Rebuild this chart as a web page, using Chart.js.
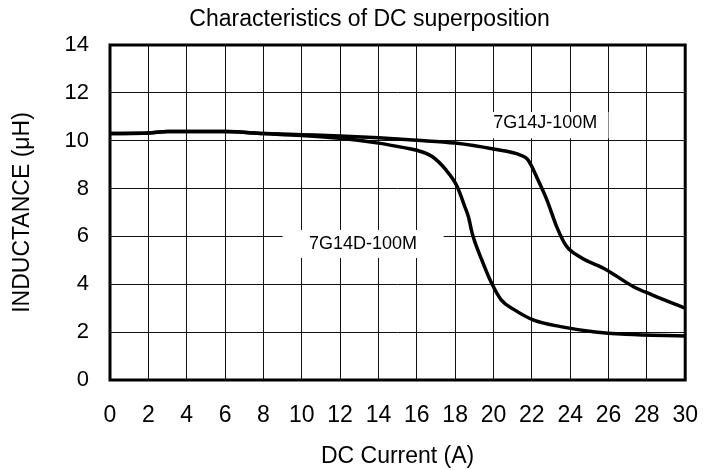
<!DOCTYPE html>
<html>
<head>
<meta charset="utf-8">
<title>Characteristics of DC superposition</title>
<script src="https://cdn.jsdelivr.net/npm/chart.js@4"></script>
<style>
  html, body { margin: 0; padding: 0; background: #fff; }
  #wrap { width: 720px; height: 470px; }
</style>
</head>
<body>
<div id="wrap"><canvas id="dcChart" width="720" height="470"></canvas></div>
<script>
// DC current (A) and inductance (uH)
const currentJ = [0, 2, 3, 6, 8, 10, 12, 14, 16, 18, 20, 21.4, 21.8, 22.3, 22.8, 23.3, 23.8, 24.5, 25.9, 27.3, 28.3, 30];
const inductanceJ = [10.3, 10.32, 10.38, 10.38, 10.3, 10.25, 10.2, 10.12, 10.02, 9.9, 9.65, 9.4, 9.2, 8.4, 7.5, 6.4, 5.6, 5.15, 4.6, 3.9, 3.55, 3.0];

const currentD = [0, 2, 3, 6, 8, 10, 12, 14, 15.4, 16, 16.8, 17.5, 18.1, 18.5, 18.7, 18.9, 19.4, 19.9, 20.4, 21.1, 22.1, 23.5, 25.2, 26.9, 30];
const inductanceD = [10.3, 10.32, 10.38, 10.38, 10.3, 10.22, 10.1, 9.9, 9.7, 9.6, 9.34, 8.8, 8.1, 7.25, 6.8, 6.1, 5.0, 4.05, 3.35, 2.93, 2.5, 2.23, 2.02, 1.91, 1.84];

const xTicks = [0, 2, 4, 6, 8, 10, 12, 14, 16, 18, 20, 22, 24, 26, 28, 30];
const yTicks = [0, 2, 4, 6, 8, 10, 12, 14];

const seriesNames = ['7G14J-100M', '7G14D-100M'];
const chartTitle = 'Characteristics of DC superposition';

const FONT = '"Liberation Sans", Arial, sans-serif';

function toPoints(xs, ys) {
    return xs.map((x, i) => ({ x: x, y: ys[i] }));
}

// curve labels with white boxes (data units)
const curveLabels = [
    { text: seriesNames[0], x: 22.7, y: 10.72, x0: 19.8, x1: 26.0, y0: 10.1, y1: 11.2 },
    { text: seriesNames[1], x: 13.2, y: 5.69, x0: 9.0, x1: 17.4, y0: 5.1, y1: 6.27 }
];

const labelPlugin = {
    id: 'curveLabels',
    beforeDatasetsDraw(chart) {
        const ctx = chart.ctx;
        const xs = chart.scales.x, ys = chart.scales.y;
        ctx.save();
        curveLabels.forEach(l => {
            const left = xs.getPixelForValue(l.x0);
            const right = xs.getPixelForValue(l.x1);
            const top = ys.getPixelForValue(l.y1);
            const bottom = ys.getPixelForValue(l.y0);
            ctx.fillStyle = '#fff';
            ctx.fillRect(left, top, right - left, bottom - top);
            ctx.fillStyle = '#000';
            ctx.font = '18px ' + FONT;
            ctx.textAlign = 'center';
            ctx.textBaseline = 'middle';
            ctx.fillText(l.text, xs.getPixelForValue(l.x), ys.getPixelForValue(l.y));
        });
        ctx.restore();
    }
};

// frame round the plot area and the title above it
const framePlugin = {
    id: 'frame',
    afterDatasetsDraw(chart) {
        const a = chart.chartArea;
        const ctx = chart.ctx;
        ctx.save();
        ctx.strokeStyle = '#000';
        ctx.lineWidth = 3;
        ctx.strokeRect(a.left, a.top, a.right - a.left, a.bottom - a.top);
        ctx.fillStyle = '#000';
        ctx.font = '23px ' + FONT;
        ctx.textAlign = 'center';
        ctx.textBaseline = 'middle';
        ctx.fillText(chartTitle, (a.left + a.right) / 2 - 28, 20);
        ctx.restore();
    }
};

const ctx = document.getElementById('dcChart').getContext('2d');
new Chart(ctx, {
    type: 'line',
    data: {
        datasets: [{
            label: seriesNames[0],
            data: toPoints(currentJ, inductanceJ),
            borderColor: '#000',
            borderWidth: 3.5,
            pointRadius: 0,
            fill: false,
            cubicInterpolationMode: 'monotone'
        }, {
            label: seriesNames[1],
            data: toPoints(currentD, inductanceD),
            borderColor: '#000',
            borderWidth: 3.5,
            pointRadius: 0,
            fill: false,
            cubicInterpolationMode: 'monotone'
        }]
    },
    options: {
        responsive: false,
        animation: false,
        layout: { padding: { left: 0, right: 26, top: 45, bottom: 0 } },
        plugins: {
            legend: { display: false },
            tooltip: { enabled: false },
            title: { display: false }
        },
        scales: {
            x: {
                type: 'linear',
                min: 0,
                max: 30,
                afterFit(scale) { scale.height = 90; },
                afterBuildTicks(scale) { scale.ticks = xTicks.map(v => ({ value: v })); },
                grid: { color: '#111', lineWidth: 1, drawTicks: false },
                border: { display: false },
                ticks: {
                    color: '#000',
                    padding: 22,
                    maxRotation: 0,
                    autoSkip: false,
                    font: { family: FONT, size: 23 }
                },
                title: {
                    display: true,
                    text: 'DC Current (A)',
                    color: '#000',
                    font: { family: FONT, size: 23 },
                    padding: { top: 0, bottom: 0 }
                }
            },
            y: {
                min: 0,
                max: 14,
                afterFit(scale) { scale.width = 110; },
                afterBuildTicks(scale) { scale.ticks = yTicks.map(v => ({ value: v })); },
                grid: { color: '#111', lineWidth: 1, drawTicks: false },
                border: { display: false },
                ticks: {
                    color: '#000',
                    padding: 21,
                    font: { family: FONT, size: 22 }
                },
                title: {
                    display: true,
                    text: 'INDUCTANCE (μH)',
                    color: '#000',
                    font: { family: FONT, size: 23 },
                    padding: { top: 9, bottom: 0 }
                }
            }
        }
    },
    plugins: [labelPlugin, framePlugin]
});
</script>
</body>
</html>
